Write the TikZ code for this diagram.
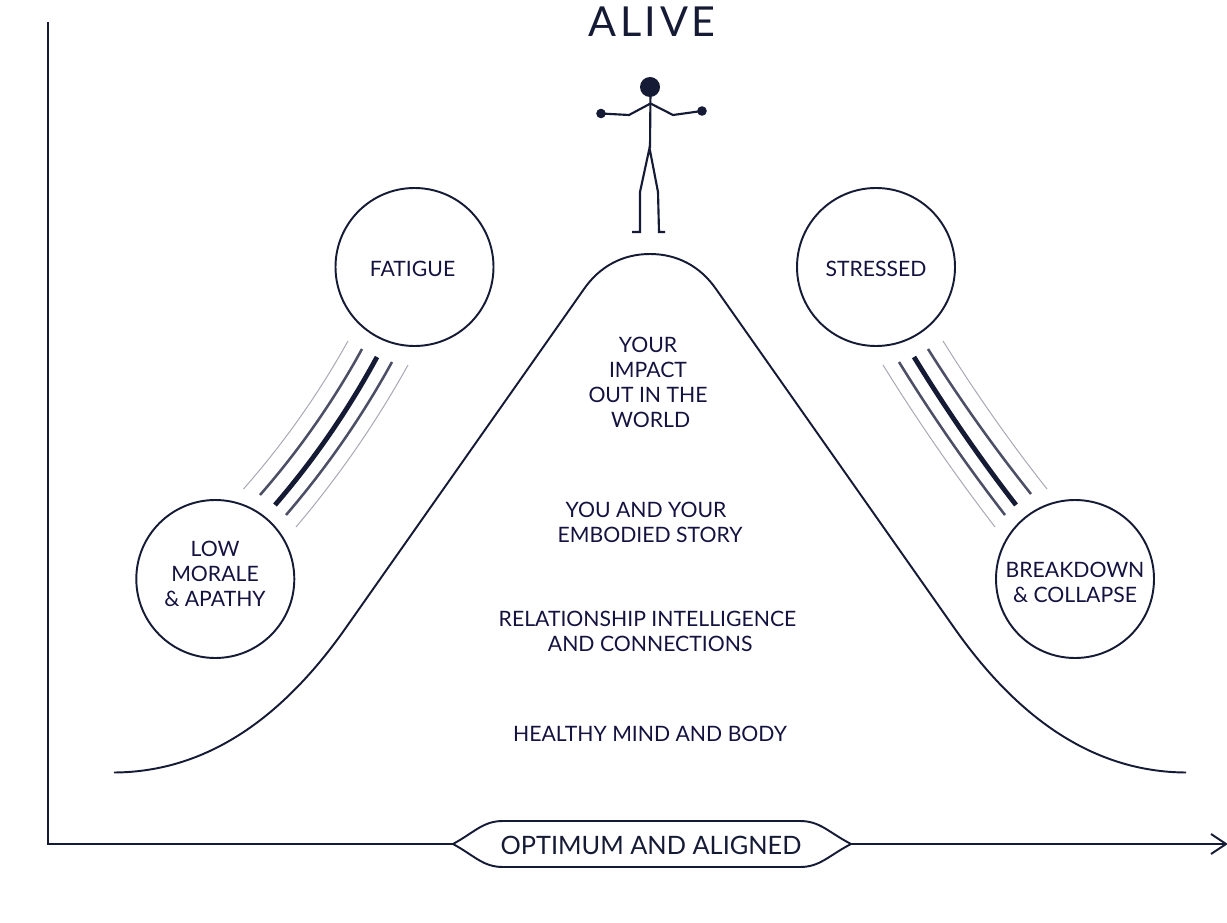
\documentclass[tikz,border=0pt]{standalone}
\usepackage{fontspec}
\setmainfont{Lato}
\definecolor{ink}{HTML}{151A35}
\definecolor{txt}{HTML}{14123F}
\definecolor{inkmid}{HTML}{4C4F65}
\definecolor{inklight}{HTML}{A8A9B4}
\begin{document}
\begin{tikzpicture}[x=0.75pt,y=-0.75pt,
  line/.style={draw=ink,line width=1.45pt},
  ring/.style={circle,draw=ink,line width=1.45pt,minimum size=158*0.75pt,inner sep=0pt},
  lbl/.style={align=center,text=txt,font=\fontsize{15.9pt}{18.75pt}\selectfont,inner sep=0pt},
  thin1/.style={draw=inklight,line width=0.75pt},
  mid1/.style={draw=inkmid,line width=1.9pt},
  thick1/.style={draw=ink,line width=3.6pt},
  stick/.style={draw=ink,line width=1.6pt}]
\useasboundingbox (0,0) rectangle (1227,923);
% axes
\coordinate (top) at (48,22);
\coordinate (org) at (48,844);
\coordinate (tip) at (1226,844);
\draw[line] (top) -- (org) -- (tip);
\draw[line] (1211,834) -- (tip) -- (1211,854);
% banner
\draw[line,fill=white] (453,844) .. controls (475,832) and (483,821) .. (503,821) -- (800,821)
  .. controls (820,821) and (828,832) .. (851,844) .. controls (828,856) and (820,867) .. (800,867)
  -- (503,867) .. controls (483,867) and (475,856) .. (453,844) -- cycle;
\node[lbl,text=ink,font=\fontsize{19pt}{23pt}\selectfont] (opt) at (651,845) {OPTIMUM AND ALIGNED};
% hump
\draw[line] (114,772.5) .. controls (210,772) and (285,714) .. (345,629)
  -- (584,289) .. controls (600,266) and (623,254) .. (650,254)
  .. controls (677,254) and (700,266) .. (716,289)
  -- (955,629) .. controls (1015,714) and (1090,772) .. (1186,772.5);
% title
\node[lbl,text=ink,font=\fontsize{31pt}{38pt}\selectfont\addfontfeature{LetterSpace=8.5}] (alive) at (652,22) {ALIVE};
% figure
\fill[ink] (650,87) circle (10);
\fill[ink] (601,113.5) circle (4.8);
\fill[ink] (702,111) circle (4.8);
\draw[stick] (650.5,90) -- (650,148);
\draw[stick] (601,113.5) -- (629,115) -- (650.5,103.5) -- (673,115) -- (702,111);
\draw[stick] (632,232) -- (640,232) -- (640,192) -- (649.5,148) -- (658,192) -- (659,232) -- (665,232);
% circles
\node[ring] (fatigue) at (414.5,267) {};
\node[ring] (stressed) at (876,267) {};
\node[ring] (low) at (215.3,579) {};
\node[ring] (break) at (1075,579) {};
\node[lbl] (fatiguetxt) at (412.5,268.5) {FATIGUE};
\node[lbl] (stressedtxt) at (876,268.5) {STRESSED};
\node[lbl] (lowtxt) at (215,574) {LOW\\MORALE\\\&\ APATHY};
\node[lbl] (breaktxt) at (1075,582.5) {BREAKDOWN\\\&\ COLLAPSE};
% left lines
\draw[thin1] (243.5,489) .. controls (283.6,443.4) and (318.5,394) .. (348,341);
\draw[mid1] (260,495) .. controls (299.3,450) and (333.3,401.4) .. (362,349);
\draw[thick1] (275,505) .. controls (314.3,459.4) and (348.3,410) .. (377,357);
\draw[mid1] (286,515) .. controls (326.6,467.7) and (362,416.7) .. (392,362);
\draw[thin1] (296,527) .. controls (338.6,476.7) and (376,422.7) .. (408,365);
% right lines
\draw[thin1] (883,365) .. controls (917.6,420.9) and (955,474.9) .. (995,527);
\draw[mid1] (899,362) .. controls (931.6,414.9) and (967,465.9) .. (1005,515);
\draw[thick1] (914,357) .. controls (945.3,408.2) and (979.3,457.6) .. (1016,505);
\draw[mid1] (928,349) .. controls (959.6,399.2) and (994,447.6) .. (1031,494);
\draw[thin1] (943,341) .. controls (975,392.2) and (1009.6,441.6) .. (1047,489);
% labels
\node[lbl] (impact) at (648,382) {YOUR\\IMPACT\\OUT IN THE\\\hspace*{4pt}WORLD};
\node[lbl] (story) at (650,522) {\hspace*{-6pt}YOU AND YOUR\\EMBODIED STORY};
\node[lbl] (rel) at (647.5,631) {RELATIONSHIP INTELLIGENCE\\\hspace*{4pt}AND CONNECTIONS};
\node[lbl] (mind) at (650,734) {HEALTHY MIND AND BODY};
\end{tikzpicture}
\end{document}
